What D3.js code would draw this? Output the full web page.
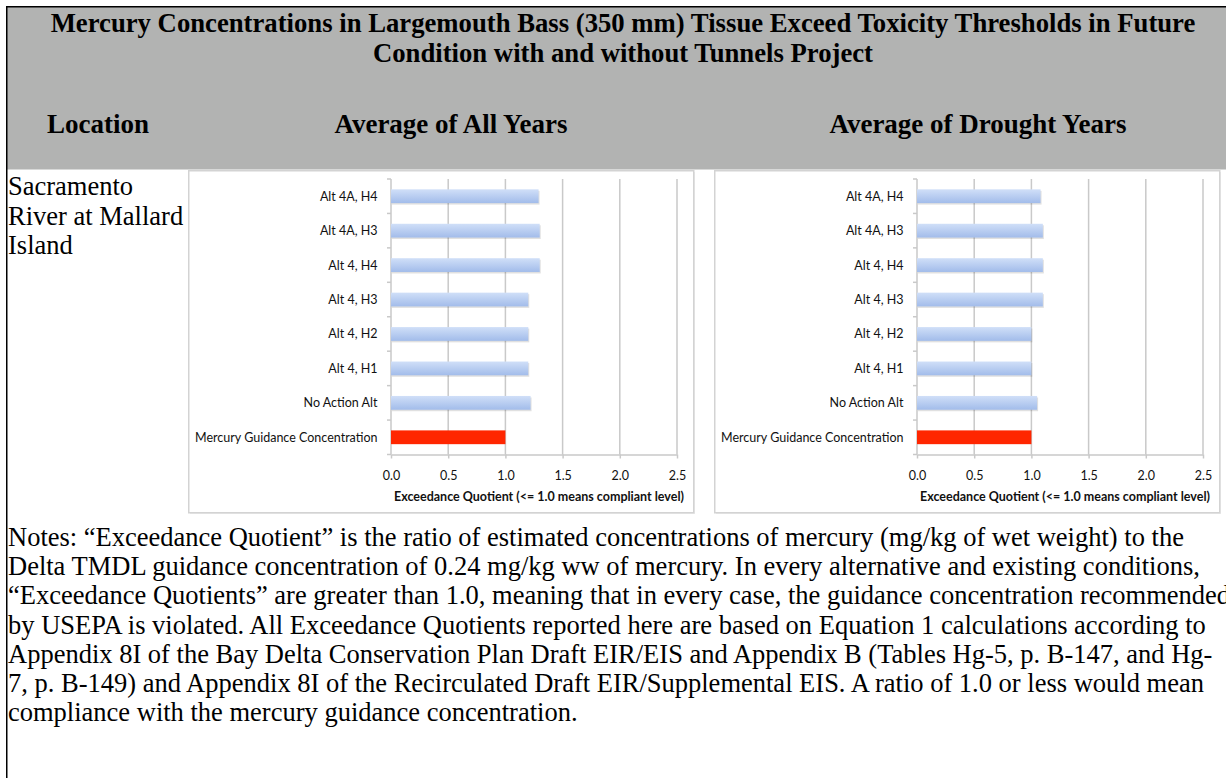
<!DOCTYPE html>
<html>
<head>
<meta charset="utf-8">
<script src="https://cdn.jsdelivr.net/npm/d3@7"></script>
<style>
  body { margin: 0; background: #fff; }
  svg { display: block; }
</style>
</head>
<body>
<svg id="page" width="1226" height="778"></svg>
<script>
// chart data (top to bottom, as drawn)
var categories = ["Alt 4A, H4", "Alt 4A, H3", "Alt 4, H4", "Alt 4, H3", "Alt 4, H2", "Alt 4, H1", "No Action Alt", "Mercury Guidance Concentration"];
var allYears = [1.29, 1.30, 1.30, 1.20, 1.20, 1.20, 1.22, 1.00];
var droughtYears = [1.08, 1.10, 1.10, 1.10, 1.00, 1.00, 1.05, 1.00];
var xTicks = [0, 0.5, 1.0, 1.5, 2.0, 2.5];
var axisTitle = "Exceedance Quotient (<= 1.0 means compliant level)";

// table text
var titleLines = ["Mercury Concentrations in Largemouth Bass (350 mm) Tissue Exceed Toxicity Thresholds in Future",
	"Condition with and without Tunnels Project"];
var headers = ["Location", "Average of All Years", "Average of Drought Years"];
var locationLines = ["Sacramento", "River at Mallard", "Island"];
var noteLines = [
	"Notes: \u201CExceedance Quotient\u201D is the ratio of estimated concentrations of mercury (mg/kg of wet weight) to the",
	"Delta TMDL guidance concentration of 0.24 mg/kg ww of mercury. In every alternative and existing conditions,",
	"\u201CExceedance Quotients\u201D are greater than 1.0, meaning that in every case, the guidance concentration recommended",
	"by USEPA is violated. All Exceedance Quotients reported here are based on Equation 1 calculations according to",
	"Appendix 8I of the Bay Delta Conservation Plan Draft EIR/EIS and Appendix B (Tables Hg-5, p. B-147, and Hg-",
	"7, p. B-149) and Appendix 8I of the Recirculated Draft EIR/Supplemental EIS. A ratio of 1.0 or less would mean",
	"compliance with the mercury guidance concentration."
];

var serif = "'Liberation Serif', 'Times New Roman', serif";
var sans = "Lato, 'Open Sans', sans-serif";

var svg = d3.select("#page");

var defs = svg.append("defs");
var grad = defs.append("linearGradient")
	.attr("id", "barBlue")
	.attr("x1", 0).attr("y1", 0).attr("x2", 0).attr("y2", 1);
grad.append("stop").attr("offset", "0%").attr("stop-color", "#d0dff8");
grad.append("stop").attr("offset", "100%").attr("stop-color", "#a2bcea");

// gray header block and the black table borders
svg.append("rect")
	.attr("x", 7).attr("y", 7)
	.attr("width", 1219).attr("height", 162.5)
	.attr("fill", "#b2b3b2");
svg.append("line")
	.attr("x1", 6.75).attr("x2", 6.75).attr("y1", 6).attr("y2", 778)
	.attr("stroke", "#000").attr("stroke-width", 1.5);
svg.append("line")
	.attr("x1", 6).attr("x2", 1226).attr("y1", 6.75).attr("y2", 6.75)
	.attr("stroke", "#000").attr("stroke-width", 1.5);

svg.selectAll("text.title")
	.data(titleLines)
	.enter()
	.append("text")
	.attr("class", "title")
	.attr("x", 623)
	.attr("y", function (d, i) { return 32 + i * 30; })
	.attr("text-anchor", "middle")
	.style("font-family", serif)
	.style("font-weight", "bold")
	.style("font-size", "26.7px")
	.text(function (d) { return d; });

var headerX = [98, 451, 978];
svg.selectAll("text.head")
	.data(headers)
	.enter()
	.append("text")
	.attr("class", "head")
	.attr("x", function (d, i) { return headerX[i]; })
	.attr("y", 133)
	.attr("text-anchor", "middle")
	.style("font-family", serif)
	.style("font-weight", "bold")
	.style("font-size", "27px")
	.text(function (d) { return d; });

svg.selectAll("text.loc")
	.data(locationLines)
	.enter()
	.append("text")
	.attr("class", "loc")
	.attr("x", 8)
	.attr("y", function (d, i) { return 195 + i * 29.5; })
	.style("font-family", serif)
	.style("font-size", "26.5px")
	.text(function (d) { return d; });

svg.selectAll("text.note")
	.data(noteLines)
	.enter()
	.append("text")
	.attr("class", "note")
	.attr("x", 8)
	.attr("y", function (d, i) { return 546 + i * 29.2; })
	.style("font-family", serif)
	.style("font-size", "26.5px")
	.text(function (d) { return d; });

function drawChart(left, values) {
	var w = 505, h = 342;
	var g = svg.append("g").attr("transform", "translate(" + left + ",170)");

	g.append("rect")
		.attr("x", 2).attr("y", 2)
		.attr("width", w).attr("height", h)
		.attr("fill", "#ececec");
	g.append("rect")
		.attr("x", 0.75).attr("y", 0.75)
		.attr("width", w).attr("height", h)
		.attr("fill", "#fff")
		.attr("stroke", "#d3d3d3")
		.attr("stroke-width", 1.5);

	var x = d3.scaleLinear().domain([0, 2.5]).range([203, 489]);
	var y = d3.scaleBand().domain(categories).range([9, 284.5])
		.paddingInner(0.6).paddingOuter(0.3);
	var step = y.step();
	var top = 9, bottom = 284.5;

	// vertical gridlines
	g.selectAll("line.grid")
		.data(xTicks.slice(1))
		.enter()
		.append("line")
		.attr("class", "grid")
		.attr("x1", function (d) { return x(d); })
		.attr("x2", function (d) { return x(d); })
		.attr("y1", top).attr("y2", bottom)
		.attr("stroke", "#c9c9c9").attr("stroke-width", 1.5);

	// category axis with ticks between bands
	g.append("line")
		.attr("x1", x(0)).attr("x2", x(0)).attr("y1", top).attr("y2", bottom)
		.attr("stroke", "#c9c9c9").attr("stroke-width", 1.5);
	g.selectAll("line.ytick")
		.data(d3.range(categories.length + 1))
		.enter()
		.append("line")
		.attr("class", "ytick")
		.attr("x1", x(0) - 4).attr("x2", x(0))
		.attr("y1", function (i) { return top + i * step; })
		.attr("y2", function (i) { return top + i * step; })
		.attr("stroke", "#c9c9c9").attr("stroke-width", 1.5);
	g.selectAll("text.cat")
		.data(categories)
		.enter()
		.append("text")
		.attr("class", "cat")
		.attr("x", x(0) - 13.5)
		.attr("y", function (d) { return y(d) + y.bandwidth() / 2; })
		.attr("dy", "0.36em")
		.attr("text-anchor", "end")
		.style("font-family", sans)
		.style("font-size", "12.5px")
		.style("fill", "#111")
		.text(function (d) { return d; });

	// bottom value axis
	var xAxis = d3.axisBottom(x)
		.tickValues(xTicks)
		.tickFormat(d3.format(".1f"))
		.tickSizeInner(4)
		.tickSizeOuter(0);
	var ax = g.append("g")
		.attr("transform", "translate(0," + bottom + ")")
		.call(xAxis);
	ax.select(".domain").attr("stroke", "#c9c9c9").attr("stroke-width", 1.5);
	ax.selectAll(".tick line").attr("stroke", "#c9c9c9").attr("stroke-width", 1.5);
	ax.selectAll(".tick text")
		.attr("y", 25.5).attr("dy", 0)
		.style("font-family", sans)
		.style("font-size", "12.5px")
		.style("fill", "#111");

	g.append("text")
		.attr("x", x(2.5) + 7)
		.attr("y", bottom + 46.5)
		.attr("text-anchor", "end")
		.style("font-family", sans)
		.style("font-weight", "bold")
		.style("font-size", "12.5px")
		.style("fill", "#111")
		.text(axisTitle);

	// bars: faint shadow, then the fill
	g.selectAll("rect.shadow")
		.data(values)
		.enter()
		.append("rect")
		.attr("class", "shadow")
		.attr("x", x(0) + 1)
		.attr("y", function (d, i) { return y(categories[i]) + 1.5; })
		.attr("width", function (d) { return x(d) - x(0); })
		.attr("height", y.bandwidth())
		.attr("fill", "#000")
		.attr("opacity", function (d, i) { return i == categories.length - 1 ? 0 : 0.12; });
	g.selectAll("rect.bar")
		.data(values)
		.enter()
		.append("rect")
		.attr("class", "bar")
		.attr("x", x(0))
		.attr("y", function (d, i) { return y(categories[i]); })
		.attr("width", function (d) { return x(d) - x(0); })
		.attr("height", y.bandwidth())
		.attr("fill", function (d, i) { return i == categories.length - 1 ? "#ff2600" : "url(#barBlue)"; });
}

drawChart(188, allYears);
drawChart(714, droughtYears);
</script>
</body>
</html>
